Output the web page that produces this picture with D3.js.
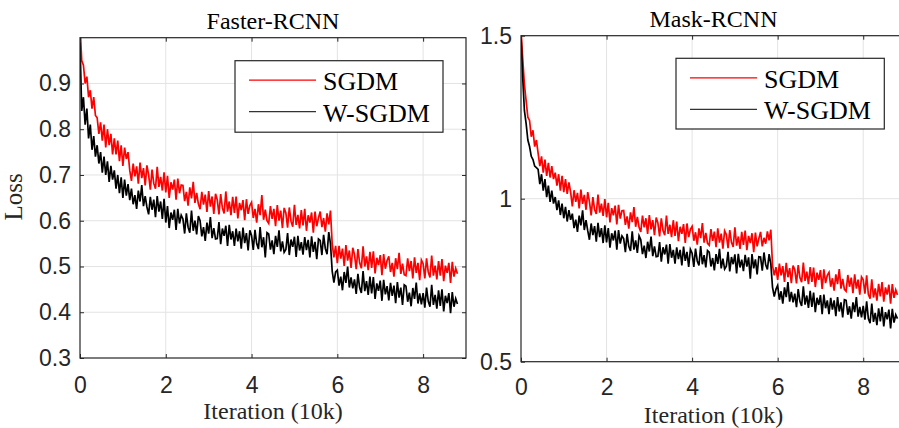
<!DOCTYPE html>
<html><head><meta charset="utf-8">
<script src="https://cdn.jsdelivr.net/npm/d3@7"></script>
<style>body{margin:0;background:#fff}svg{display:block}</style>
</head><body><svg id="c" width="899" height="428"></svg>
<script>
// iteration spacing of the samples (in units of 10k iterations)
const iterStep = 0.04;
const xTicks = [0, 2, 4, 6, 8];
const fasterYTicks = [0.3, 0.4, 0.5, 0.6, 0.7, 0.8, 0.9];
const maskYTicks = [0.5, 1, 1.5];
const seriesNames = ["SGDM", "W-SGDM"];
const panelTitles = ["Faster-RCNN", "Mask-RCNN"];
const xLabel = "Iteration (10k)";
const yLabel = "Loss";

const fasterSGDM = [
1.03,0.95,0.94,0.90,0.915,0.87,0.885,0.845,0.87,0.83,
0.825,0.79,0.815,0.775,0.81,0.76,0.80,0.765,0.79,0.745,
0.78,0.745,0.775,0.73,0.765,0.72,0.76,0.735,0.75,0.71,
0.687,0.725,0.697,0.719,0.681,0.727,0.693,0.715,0.677,0.721,
0.700,0.668,0.712,0.682,0.670,0.718,0.674,0.696,0.666,0.706,
0.662,0.698,0.650,0.684,0.668,0.690,0.646,0.692,0.660,0.678,
0.677,0.643,0.663,0.633,0.673,0.649,0.685,0.639,0.661,0.637,
0.625,0.663,0.635,0.657,0.619,0.665,0.631,0.653,0.615,0.659,
0.646,0.614,0.658,0.628,0.616,0.664,0.620,0.642,0.612,0.652,
0.617,0.653,0.605,0.639,0.623,0.645,0.601,0.647,0.615,0.633,
0.640,0.606,0.626,0.596,0.636,0.612,0.656,0.602,0.624,0.600,
0.594,0.632,0.604,0.626,0.588,0.634,0.600,0.622,0.584,0.628,
0.617,0.585,0.629,0.599,0.587,0.635,0.591,0.613,0.583,0.623,
0.590,0.626,0.578,0.612,0.596,0.618,0.574,0.620,0.588,0.606,
0.620,0.586,0.606,0.576,0.616,0.592,0.622,0.550,0.520,0.545,
0.507,0.545,0.517,0.539,0.501,0.547,0.513,0.535,0.497,0.541,
0.526,0.494,0.538,0.508,0.496,0.544,0.500,0.522,0.492,0.532,
0.497,0.533,0.485,0.519,0.503,0.525,0.481,0.527,0.495,0.513,
0.522,0.488,0.508,0.478,0.518,0.494,0.530,0.484,0.506,0.482,
0.480,0.518,0.490,0.512,0.474,0.520,0.486,0.508,0.470,0.514,
0.506,0.474,0.518,0.488,0.476,0.524,0.480,0.502,0.472,0.512,
0.480,0.516,0.468,0.502,0.486,0.508,0.464,0.510,0.478,0.496,
0.484];

const fasterWSGDM = [
0.99,0.84,0.87,0.81,0.845,0.78,0.81,0.755,0.785,0.74,
0.765,0.725,0.75,0.705,0.74,0.70,0.73,0.685,0.72,0.69,
0.71,0.67,0.70,0.66,0.695,0.65,0.69,0.655,0.68,0.645,
0.670,0.636,0.656,0.626,0.666,0.642,0.678,0.632,0.654,0.630,
0.614,0.652,0.624,0.646,0.608,0.654,0.620,0.642,0.604,0.648,
0.596,0.632,0.584,0.618,0.602,0.624,0.580,0.626,0.594,0.612,
0.604,0.572,0.616,0.586,0.574,0.622,0.578,0.600,0.570,0.610,
0.600,0.566,0.586,0.556,0.596,0.572,0.608,0.562,0.584,0.560,
0.561,0.597,0.549,0.583,0.567,0.589,0.545,0.591,0.559,0.577,
0.545,0.583,0.555,0.577,0.539,0.585,0.551,0.573,0.535,0.579,
0.568,0.536,0.580,0.550,0.538,0.586,0.542,0.564,0.520,0.574,
0.571,0.537,0.557,0.527,0.567,0.543,0.579,0.533,0.555,0.531,
0.537,0.573,0.525,0.559,0.543,0.565,0.521,0.567,0.535,0.553,
0.526,0.564,0.536,0.558,0.520,0.566,0.532,0.554,0.516,0.560,
0.557,0.525,0.569,0.539,0.527,0.575,0.550,0.490,0.465,0.488,
0.492,0.458,0.478,0.448,0.488,0.464,0.500,0.454,0.476,0.452,
0.472,0.440,0.484,0.454,0.442,0.490,0.446,0.468,0.438,0.478,
0.441,0.477,0.429,0.463,0.447,0.469,0.425,0.471,0.439,0.457,
0.426,0.464,0.436,0.458,0.420,0.466,0.432,0.454,0.416,0.460,
0.457,0.423,0.443,0.413,0.453,0.429,0.465,0.419,0.441,0.417,
0.442,0.410,0.454,0.424,0.412,0.460,0.416,0.438,0.408,0.448,
0.414,0.450,0.402,0.436,0.420,0.442,0.398,0.444,0.412,0.430,
0.418];

const maskSGDM = [
1.52,1.43,1.35,1.30,1.25,1.24,1.19,1.21,1.16,1.18,
1.14,1.10,1.13,1.08,1.12,1.07,1.11,1.065,1.10,1.06,
1.08,1.04,1.075,1.025,1.07,1.02,1.06,1.015,1.05,1.02,
0.976,1.026,0.990,1.018,0.970,1.028,0.984,1.012,0.966,1.020,
0.991,0.949,1.005,0.967,0.953,1.013,0.957,0.985,0.947,0.999,
0.943,0.987,0.927,0.971,0.949,0.979,0.921,0.981,0.939,0.963,
0.964,0.920,0.946,0.908,0.958,0.928,0.974,0.914,0.944,0.912,
0.898,0.948,0.912,0.940,0.892,0.950,0.906,0.934,0.888,0.942,
0.926,0.884,0.940,0.902,0.888,0.948,0.892,0.920,0.882,0.934,
0.886,0.930,0.870,0.914,0.892,0.922,0.864,0.924,0.882,0.906,
0.915,0.871,0.897,0.859,0.909,0.879,0.925,0.865,0.895,0.863,
0.857,0.907,0.871,0.899,0.851,0.909,0.865,0.893,0.847,0.901,
0.890,0.848,0.904,0.866,0.852,0.912,0.856,0.884,0.846,0.898,
0.858,0.902,0.842,0.886,0.864,0.894,0.836,0.896,0.854,0.878,
0.898,0.854,0.880,0.862,0.900,0.872,0.905,0.795,0.765,0.790,
0.751,0.801,0.765,0.793,0.745,0.803,0.759,0.787,0.741,0.795,
0.782,0.740,0.796,0.758,0.744,0.804,0.748,0.776,0.738,0.790,
0.745,0.789,0.729,0.773,0.751,0.781,0.723,0.783,0.741,0.765,
0.774,0.730,0.756,0.718,0.768,0.738,0.784,0.724,0.754,0.722,
0.716,0.766,0.730,0.758,0.710,0.768,0.724,0.752,0.706,0.760,
0.751,0.709,0.765,0.707,0.693,0.753,0.697,0.725,0.687,0.739,
0.700,0.744,0.684,0.728,0.706,0.736,0.678,0.738,0.696,0.720,
0.705];

const maskWSGDM = [
1.50,1.37,1.27,1.23,1.18,1.16,1.13,1.12,1.10,1.095,
1.09,1.045,1.075,1.025,1.06,1.005,1.04,0.99,1.025,0.985,
1.005,0.965,0.995,0.95,0.985,0.94,0.975,0.93,0.965,0.935,
0.954,0.910,0.936,0.898,0.948,0.918,0.964,0.904,0.934,0.902,
0.874,0.924,0.888,0.916,0.868,0.926,0.882,0.910,0.864,0.918,
0.866,0.910,0.850,0.894,0.872,0.902,0.844,0.904,0.862,0.886,
0.878,0.836,0.892,0.854,0.840,0.900,0.844,0.872,0.834,0.886,
0.874,0.830,0.856,0.818,0.868,0.838,0.884,0.824,0.854,0.822,
0.823,0.867,0.807,0.851,0.829,0.859,0.801,0.861,0.819,0.843,
0.801,0.851,0.815,0.843,0.795,0.853,0.809,0.837,0.791,0.845,
0.833,0.791,0.847,0.809,0.795,0.855,0.799,0.827,0.789,0.841,
0.836,0.792,0.818,0.780,0.830,0.800,0.846,0.786,0.816,0.784,
0.793,0.837,0.777,0.821,0.799,0.829,0.771,0.831,0.789,0.813,
0.778,0.828,0.792,0.820,0.755,0.830,0.786,0.814,0.768,0.822,
0.821,0.779,0.835,0.797,0.783,0.830,0.800,0.728,0.700,0.722,
0.734,0.690,0.716,0.678,0.728,0.698,0.744,0.684,0.714,0.682,
0.709,0.667,0.723,0.685,0.671,0.731,0.675,0.703,0.665,0.717,
0.668,0.712,0.652,0.696,0.674,0.704,0.646,0.706,0.664,0.688,
0.646,0.696,0.660,0.688,0.640,0.698,0.654,0.682,0.636,0.690,
0.688,0.644,0.670,0.632,0.682,0.652,0.698,0.638,0.668,0.636,
0.671,0.629,0.685,0.632,0.618,0.678,0.622,0.650,0.612,0.664,
0.624,0.668,0.608,0.652,0.630,0.660,0.602,0.662,0.620,0.644,
0.632];

const seriesColors = ["#ff0000", "#000000"];
const svg = d3.select("#c");
const axisColor = "#262626";
const gridColor = "#e3e3e3";
const sansFont = "'Liberation Sans', Arial, Helvetica, sans-serif";
const serifFont = "'Liberation Serif', 'Times New Roman', serif";

function panel(cfg, idx) {
  const x = d3.scaleLinear().domain([0, 9]).range([cfg.left, cfg.right]);
  const y = d3.scaleLinear().domain(cfg.yDomain).range([cfg.bottom, cfg.top]);
  const g = svg.append("g");
  const clipId = "clip" + idx;
  svg.append("clipPath").attr("id", clipId).append("rect")
    .attr("x", cfg.left).attr("y", cfg.top)
    .attr("width", cfg.right - cfg.left).attr("height", cfg.bottom - cfg.top);

  // grid
  g.append("g").selectAll("line").data(xTicks.filter(d => d > 0)).join("line")
    .attr("x1", d => x(d)).attr("x2", d => x(d))
    .attr("y1", cfg.top).attr("y2", cfg.bottom)
    .attr("stroke", gridColor).attr("stroke-width", 1);
  g.append("g").selectAll("line").data(cfg.yTicks.filter(d => d > cfg.yDomain[0] && d < cfg.yDomain[1])).join("line")
    .attr("x1", cfg.left).attr("x2", cfg.right)
    .attr("y1", d => y(d)).attr("y2", d => y(d))
    .attr("stroke", gridColor).attr("stroke-width", 1);

  // series
  const line = d3.line().x((d, i) => x(i * iterStep)).y(d => y(d));
  cfg.series.forEach((s, k) => {
    g.append("path").attr("d", line(s)).attr("fill", "none")
      .attr("stroke", seriesColors[k]).attr("stroke-width", 1.7)
      .attr("stroke-linejoin", "miter").attr("clip-path", `url(#${clipId})`);
  });

  // axes
  const xb = g.append("g").attr("transform", `translate(0,${cfg.bottom})`)
    .call(d3.axisBottom(x).tickValues(xTicks).tickFormat(d3.format("d"))
      .tickSizeInner(-4).tickSizeOuter(0).tickPadding(cfg.xPad));
  const yl = g.append("g").attr("transform", `translate(${cfg.left},0)`)
    .call(d3.axisLeft(y).tickValues(cfg.yTicks).tickFormat(d => String(d))
      .tickSizeInner(-4).tickSizeOuter(0).tickPadding(9));
  const xt = g.append("g").attr("transform", `translate(0,${cfg.top})`)
    .call(d3.axisTop(x).tickValues(xTicks).tickFormat("").tickSizeInner(-4).tickSizeOuter(0));
  const yr = g.append("g").attr("transform", `translate(${cfg.right},0)`)
    .call(d3.axisRight(y).tickValues(cfg.yTicks).tickFormat("").tickSizeInner(-4).tickSizeOuter(0));
  [xb, yl, xt, yr].forEach(a => {
    a.select(".domain").remove();
    a.selectAll("line").attr("stroke", axisColor);
    a.selectAll("text").attr("fill", axisColor).style("font-family", sansFont).style("font-size", "23px");
  });
  g.append("rect").attr("x", cfg.left).attr("y", cfg.top)
    .attr("width", cfg.right - cfg.left).attr("height", cfg.bottom - cfg.top)
    .attr("fill", "none").attr("stroke", axisColor).attr("stroke-width", 1.2);

  // title and labels
  g.append("text").attr("x", (cfg.left + cfg.right) / 2).attr("y", cfg.titleY)
    .attr("text-anchor", "middle").style("font-family", serifFont).style("font-size", "24px")
    .attr("fill", "#000").text(cfg.title);
  g.append("text").attr("x", (cfg.left + cfg.right) / 2).attr("y", cfg.xLabelY)
    .attr("text-anchor", "middle").style("font-family", serifFont).style("font-size", "24px")
    .attr("fill", "#262626").text(xLabel);
  if (cfg.yLabel) {
    g.append("text").attr("transform", `translate(22,197) rotate(-90)`)
      .attr("text-anchor", "middle").style("font-family", serifFont).style("font-size", "25px")
      .attr("fill", "#262626").text(cfg.yLabel);
  }

  // legend
  const L = cfg.legend;
  const lg = g.append("g");
  lg.append("rect").attr("x", L.x).attr("y", L.y).attr("width", L.w).attr("height", L.h)
    .attr("fill", "#fff").attr("stroke", axisColor).attr("stroke-width", 1.2);
  seriesNames.forEach((name, k) => {
    const ly = L.y + L.row0 + k * L.dy;
    lg.append("line").attr("x1", L.x + 14).attr("x2", L.x + 81)
      .attr("y1", ly).attr("y2", ly)
      .attr("stroke", seriesColors[k] === "#000000" ? "#333" : seriesColors[k]).attr("stroke-width", 1.2);
    lg.append("text").attr("x", L.x + 88).attr("y", ly + 10)
      .style("font-family", serifFont).style("font-size", "26px").attr("fill", "#000").text(name);
  });
}

panel({
  left: 80, right: 466, top: 37.7, bottom: 358,
  yDomain: [0.3, 1.0], yTicks: fasterYTicks,
  series: [fasterSGDM, fasterWSGDM], title: panelTitles[0],
  titleY: 29, xLabelY: 419, xPad: 18.5, yLabel: yLabel,
  legend: { x: 235, y: 60.7, w: 208, h: 71.5, row0: 19.5, dy: 31.5 }
}, 0);
panel({
  left: 521, right: 906, top: 35.7, bottom: 361.7,
  yDomain: [0.5, 1.5], yTicks: maskYTicks,
  series: [maskSGDM, maskWSGDM], title: panelTitles[1],
  titleY: 27, xLabelY: 423, xPad: 16.8, yLabel: null,
  legend: { x: 676, y: 58.3, w: 208.3, h: 70.7, row0: 19.5, dy: 31.5 }
}, 1);
</script>
</body></html>
